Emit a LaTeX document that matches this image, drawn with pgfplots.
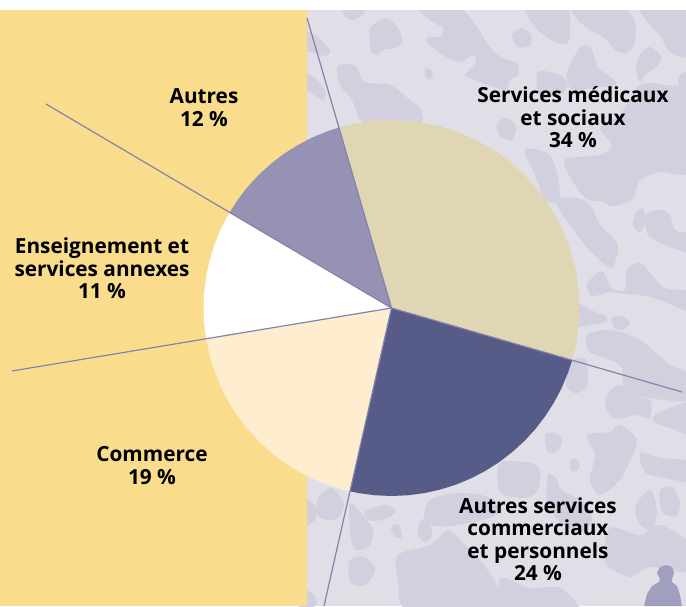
\documentclass[border=0pt]{standalone}
\usepackage{pgfplots}
\pgfplotsset{compat=1.18}
\usepackage{fontspec}
\setmainfont{Open Sans}

\definecolor{jaune}{HTML}{F9DC8C}
\definecolor{fond}{HTML}{E0DEE7}
\definecolor{tache}{HTML}{D2CFDF}
\definecolor{beige}{HTML}{E1D6B3}
\definecolor{fonce}{HTML}{575B87}
\definecolor{creme}{HTML}{FEEDCF}
\definecolor{moyen}{HTML}{9592B3}
\definecolor{trait}{HTML}{8582AE}
\definecolor{perso}{HTML}{A09FBF}
\tikzset{lab/.style={align=center, font=\fontsize{20.8}{22.5}\selectfont\bfseries, text=black}}

\begin{document}
\begin{tikzpicture}
\begin{axis}[
    scale only axis,
    width=686pt, height=606pt,
    xmin=-391.5, xmax=294.5,
    ymin=-298, ymax=308,
    hide axis,
    px/.style={x filter/.expression={x-391.5}, y filter/.expression={308-y}},
    blob/.style={px, fill=tache, draw=none, /tikz/smooth cycle},
    sector/.style={data cs=polar, draw=none},
    rule/.style={px, draw=trait, line width=1.2pt},
]
% fond
\addplot[px, fill=fond, draw=none] coordinates {(307,10) (686,10) (686,606) (307,606)} -- cycle;

% taches du fond
\addplot[blob] coordinates {(343,6) (363,6) (363,15) (352,20) (345,16)};
\addplot[blob] coordinates {(370,28) (385,18) (398,28) (402,42) (395,48) (382,50) (378,55) (371,52) (370,40)};
\addplot[blob] coordinates {(417,6) (457,6) (477,27) (487,43) (500,57) (517,63) (518,75) (510,80) (507,90) (497,88) (470,78) (465,75) (476,62) (473,55) (460,62) (443,55) (428,43) (428,37) (440,37) (443,28) (430,20)};
\addplot[blob] coordinates {(512,35) (522,28) (531,35) (530,45) (518,47)};
\addplot[blob] coordinates {(527,6) (565,6) (570,20) (568,43) (555,42) (540,32) (530,20)};
\addplot[blob] coordinates {(572,6) (620,6) (635,22) (634,45) (625,53) (615,50) (605,38) (590,30) (578,20)};
\addplot[blob] coordinates {(640,6) (692,6) (692,55) (670,52) (660,35) (650,25)};
\addplot[blob] coordinates {(567,72) (575,55) (583,45) (592,50) (598,68) (612,78) (616,85) (600,87) (575,90) (568,85)};
\addplot[blob] coordinates {(538,72) (560,75) (567,85) (560,95) (540,95)};
\addplot[blob] coordinates {(636,70) (640,55) (650,47) (662,58) (655,68) (645,75) (640,82)};
\addplot[blob] coordinates {(338,66) (355,66) (365,82) (390,85) (410,100) (420,108) (422,122) (400,124) (375,124) (360,120) (352,100) (340,85)};
\addplot[blob] coordinates {(300,30) (315,35) (330,50) (325,56) (312,52) (300,48)};
\addplot[blob] coordinates {(300,72) (315,78) (326,92) (322,100) (310,92) (300,88)};
\addplot[blob] coordinates {(425,68) (431,70) (433,76) (429,80) (425,76)};
\addplot[blob] coordinates {(678,78) (692,70) (692,90) (682,90)};
\addplot[blob] coordinates {(497,125) (505,118) (516,125) (512,140) (500,136)};
\addplot[blob] coordinates {(525,150) (545,152) (555,165) (560,200) (545,200) (535,175)};
\addplot[blob] coordinates {(600,128) (620,115) (640,85) (665,85) (692,95) (692,170) (660,172) (640,180) (630,200) (590,200) (575,185) (565,160) (600,155) (612,145)};
\addplot[blob] coordinates {(555,200) (577,198) (590,205) (600,225) (615,240) (618,250) (612,268) (600,260) (585,245) (570,225)};
\addplot[blob] coordinates {(587,285) (595,275) (603,272) (612,288) (625,290) (627,270) (640,263) (652,275) (665,288) (692,292) (692,312) (660,300) (640,295) (625,294) (610,292) (592,296)};
\addplot[blob] coordinates {(646,215) (660,210) (670,215) (675,230) (692,235) (692,253) (665,245) (648,235)};
\addplot[blob] coordinates {(635,215) (642,207) (646,220) (640,232) (633,225)};
\addplot[blob] coordinates {(600,196) (635,196) (625,203) (610,206)};
\addplot[blob] coordinates {(575,303) (595,312) (606,316) (606,322) (590,325) (575,326)};
\addplot[blob] coordinates {(612,318) (622,316) (630,323) (622,330) (614,327)};
\addplot[blob] coordinates {(587,335) (610,330) (640,340) (670,365) (692,375) (692,400) (650,398) (625,388) (620,365) (590,352)};
\addplot[blob] coordinates {(570,362) (585,358) (588,372) (586,388) (575,393) (566,385)};
\addplot[blob] coordinates {(605,400) (618,385) (640,395) (648,412) (630,416) (612,418)};
\addplot[blob] coordinates {(635,400) (650,400) (650,418) (638,414)};
\addplot[blob] coordinates {(655,415) (692,402) (692,434) (670,428) (655,422)};
\addplot[blob] coordinates {(545,435) (555,433) (562,440) (558,450) (548,452)};
\addplot[blob] coordinates {(587,435) (610,432) (620,425) (637,440) (628,465) (620,480) (600,495) (590,480) (595,455)};
\addplot[blob] coordinates {(570,460) (576,459) (580,465) (576,471) (571,470)};
\addplot[blob] coordinates {(640,453) (660,458) (692,462) (692,482) (665,478) (645,472)};
\addplot[blob] coordinates {(660,490) (672,487) (680,503) (676,516) (662,512)};
\addplot[blob] coordinates {(500,463) (530,463) (540,470) (538,490) (525,498) (500,492)};
\addplot[blob] coordinates {(548,475) (556,478) (562,490) (585,503) (592,520) (580,532) (560,522) (547,502)};
\addplot[blob] coordinates {(636,505) (650,490) (657,510) (652,530) (638,522)};
\addplot[blob] coordinates {(398,555) (430,545) (448,530) (460,540) (480,560) (500,590) (505,612) (410,612) (398,580)};
\addplot[blob] coordinates {(420,522) (428,518) (432,535) (425,542) (418,535)};
\addplot[blob] coordinates {(350,560) (365,557) (375,570) (365,585) (350,582)};
\addplot[blob] coordinates {(318,498) (332,488) (344,505) (335,520) (318,516)};
\addplot[blob] coordinates {(365,512) (385,505) (396,512) (382,520) (368,520)};
\addplot[blob] coordinates {(391,527) (397,524) (401,530) (401,538) (394,536)};
\addplot[blob] coordinates {(430,500) (460,493) (490,498) (497,515) (450,526) (425,522)};
\addplot[blob] coordinates {(350,503) (365,518) (373,530) (370,545) (355,550) (350,530)};
\addplot[blob] coordinates {(610,528) (640,535) (660,525) (692,545) (692,572) (650,567) (630,577) (605,562)};
\addplot[blob] coordinates {(500,578) (530,588) (560,588) (578,612) (510,612)};
\addplot[blob] coordinates {(300,497) (314,505) (316,518) (300,528)};
\addplot[blob] coordinates {(300,588) (315,596) (315,606) (300,612)};

% silhouette
\addplot[px, fill=perso, draw=none] coordinates {(644,606) (647,594) (652,586) (659,582) (660,579) (657,573) (660,567) (666,565) (672,567) (674,573) (672,579) (672,582) (677,586) (680,595) (682,606)} -- cycle;

% bande jaune et marge
\addplot[px, fill=jaune, draw=none] coordinates {(0,10) (307,10) (307,606) (0,606)} -- cycle;
\addplot[px, fill=white, draw=none] coordinates {(0,0) (686,0) (686,10) (0,10)} -- cycle;

% secteurs : angle, rayon
\addplot[sector, fill=beige] coordinates {(0,0) (106.2,188) (105,188) (100,188) (95,188) (90,188) (85,188) (80,188) (75,188) (70,188) (65,188) (60,188) (55,188) (50,188) (45,188) (40,188) (35,188) (30,188) (25,188) (20,188) (15,188) (10,188) (5,188) (0,188) (-5,188) (-10,188) (-15,188) (-16.1,188)} -- cycle;
\addplot[sector, fill=fonce] coordinates {(0,0) (-16.1,188) (-20,188) (-25,188) (-30,188) (-35,188) (-40,188) (-45,188) (-50,188) (-55,188) (-60,188) (-65,188) (-70,188) (-75,188) (-80,188) (-85,188) (-90,188) (-95,188) (-100,188) (-102.8,188)} -- cycle;
\addplot[sector, fill=creme] coordinates {(0,0) (-102.8,188) (-105,188) (-110,188) (-115,188) (-120,188) (-125,188) (-130,188) (-135,188) (-140,188) (-145,188) (-150,188) (-155,188) (-160,188) (-165,188) (-170.6,188)} -- cycle;
\addplot[sector, fill=white] coordinates {(0,0) (-170.6,188) (-175,188) (-180,188) (-185,188) (-190,188) (-195,188) (-200,188) (-205,188) (-210.5,188)} -- cycle;
\addplot[sector, fill=moyen] coordinates {(0,0) (149.5,188) (145,188) (140,188) (135,188) (130,188) (125,188) (120,188) (115,188) (110,188) (106.2,188)} -- cycle;

% traits
\addplot[rule] coordinates {(391.5,308) (307,18)};
\addplot[rule] coordinates {(391.5,308) (682,392)};
\addplot[rule] coordinates {(391.5,308) (324,606)};
\addplot[rule] coordinates {(391.5,308) (12,371)};
\addplot[rule] coordinates {(391.5,308) (46,104)};

% libellés
\node[lab] at (axis cs:-187.5,200.5) {Autres\\12 \%};
\node[lab] at (axis cs:181.5,190.5) {Services médicaux\\et sociaux\\34 \%};
\node[lab] at (axis cs:-289.5,39.5) {Enseignement et\\services annexes\\11 \%};
\node[lab] at (axis cs:-239.5,-157.5) {Commerce\\19 \%};
\node[lab] at (axis cs:146.5,-231) {Autres services\\commerciaux\\et personnels\\24 \%};
\end{axis}
\end{tikzpicture}
\end{document}
